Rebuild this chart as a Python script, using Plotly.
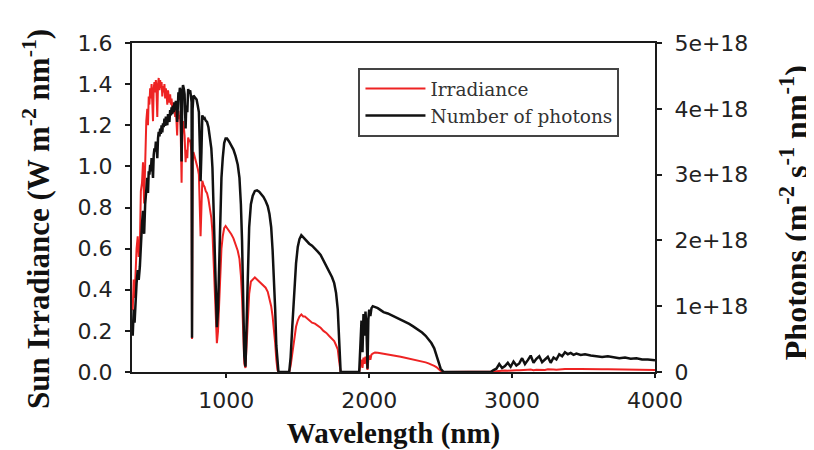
import plotly.graph_objects as go

# Wavelength (nm)
wavelength = [
    345, 352, 358, 365, 372, 380, 387, 395, 402, 410, 417, 425, 432, 440,
    447, 452, 457, 462, 467, 472, 477, 482, 487, 492, 497, 502, 507, 512,
    517, 522, 527, 532, 537, 542, 547, 552, 557, 562, 567, 572, 577, 582,
    587, 592, 597, 602, 607, 612, 617, 622, 627, 632, 637, 642, 647, 652,
    656, 660, 665, 670, 675, 680, 687, 692, 697, 703, 708, 715, 720, 727,
    733, 740, 747, 753, 757, 760, 764, 770, 778, 785, 792, 800, 808, 815,
    820, 826, 832, 840, 848, 856, 865, 875, 885, 895, 903, 912, 920, 928,
    934, 942, 950, 958, 966, 975, 985, 995, 1005, 1020, 1035, 1050, 1065,
    1080, 1092, 1102, 1110, 1118, 1126, 1134, 1142, 1150, 1160, 1172, 1185,
    1200, 1215, 1230, 1245, 1260, 1275, 1290, 1302, 1314, 1324, 1334, 1342,
    1350, 1358, 1365, 1440, 1450, 1462, 1475, 1488, 1500, 1512, 1525, 1538,
    1550, 1565, 1580, 1600, 1620, 1640, 1660, 1680, 1700, 1720, 1740, 1755,
    1768, 1780, 1790, 1800, 1930, 1938, 1946, 1953, 1960, 1967, 1974, 1981,
    1988, 1994, 2000, 2008, 2016, 2025, 2040, 2060, 2080, 2100, 2130, 2160,
    2190, 2220, 2250, 2280, 2310, 2340, 2370, 2395, 2415, 2435, 2455, 2470,
    2485, 2500, 2520, 2850, 2870, 2890, 2910, 2930, 2950, 2970, 2990, 3010,
    3030, 3050, 3070, 3090, 3110, 3130, 3150, 3170, 3190, 3210, 3230, 3250,
    3270, 3290, 3310, 3330, 3350, 3370, 3390, 3410, 3430, 3450, 3480, 3510,
    3550, 3590, 3630, 3670, 3710, 3750, 3790, 3830, 3870, 3910, 3950, 3990,
    4000,
]

# Sun irradiance (W m-2 nm-1)
irradiance = [
    0.30, 0.45, 0.36, 0.52, 0.60, 0.66, 0.56, 0.62, 0.88, 0.92, 1.02, 0.82, 1.10, 1.22,
    1.28, 1.20, 1.34, 1.30, 1.38, 1.33, 1.40, 1.32, 1.22, 1.38, 1.41, 1.36, 1.42, 1.35,
    1.24, 1.40, 1.43, 1.37, 1.42, 1.38, 1.41, 1.34, 1.39, 1.36, 1.40, 1.33, 1.38, 1.35,
    1.30, 1.37, 1.34, 1.31, 1.35, 1.30, 1.33, 1.28, 1.31, 1.26, 1.29, 1.24, 1.28, 1.22,
    1.15, 1.25, 1.27, 1.23, 1.25, 1.20, 0.92, 1.18, 1.22, 1.19, 1.15, 1.02, 1.08, 1.04,
    1.14, 1.12, 1.13, 1.09, 1.05, 0.16, 1.02, 1.07, 1.05, 1.03, 1.02, 0.99, 0.96, 0.82,
    0.66, 0.80, 0.93, 0.91, 0.90, 0.88, 0.87, 0.84, 0.80, 0.75, 0.68, 0.52, 0.38, 0.22,
    0.14, 0.20, 0.33, 0.50, 0.60, 0.66, 0.70, 0.71, 0.70, 0.69, 0.67, 0.65, 0.62,
    0.59, 0.55, 0.47, 0.36, 0.20, 0.04, 0.02, 0.14, 0.28, 0.38, 0.44, 0.45,
    0.46, 0.45, 0.44, 0.43, 0.42, 0.41, 0.39, 0.36, 0.32, 0.27, 0.21, 0.14,
    0.06, 0.01, 0.0, 0.0, 0.03, 0.09, 0.16, 0.22, 0.25, 0.27, 0.28, 0.27,
    0.27, 0.26, 0.25, 0.24, 0.235, 0.225, 0.215, 0.20, 0.19, 0.175, 0.16, 0.15,
    0.13, 0.11, 0.05, 0.0, 0.0, 0.03, 0.06, 0.02, 0.07, 0.04, 0.075, 0.05,
    0.01, 0.06, 0.08, 0.06, 0.085, 0.09, 0.095, 0.094, 0.092, 0.09, 0.086, 0.082,
    0.078, 0.074, 0.07, 0.066, 0.062, 0.057, 0.052, 0.047, 0.042, 0.037, 0.03, 0.024,
    0.015, 0.006, 0.0, 0.0, 0.002, 0.004, 0.006, 0.005, 0.007, 0.006, 0.008, 0.007,
    0.009, 0.008, 0.010, 0.009, 0.011, 0.012, 0.009, 0.011, 0.010, 0.012, 0.010, 0.013,
    0.011, 0.012, 0.011, 0.013, 0.013, 0.014, 0.015, 0.014, 0.015, 0.015, 0.015, 0.014,
    0.014, 0.014, 0.013, 0.013, 0.013, 0.012, 0.012, 0.012, 0.011, 0.011, 0.011, 0.010,
    0.010,
]

# Number of photons (x 1e18 m-2 s-1 nm-1)
photons_e18 = [
    0.55, 0.95, 0.75, 1.15, 1.35, 1.55, 1.40, 1.60, 2.05, 2.25, 2.45, 2.10, 2.55, 2.80,
    2.95, 2.72, 3.05, 3.00, 3.15, 3.05, 3.25, 3.12, 2.95, 3.30, 3.40, 3.35, 3.50, 3.42,
    3.25, 3.55, 3.65, 3.58, 3.70, 3.62, 3.75, 3.64, 3.78, 3.72, 3.85, 3.74, 3.88, 3.82,
    3.75, 3.92, 3.88, 3.80, 3.98, 3.90, 4.02, 3.92, 4.05, 3.95, 4.10, 3.98, 4.12, 4.02,
    3.80, 4.15, 4.25, 4.18, 4.32, 4.22, 3.20, 4.25, 4.36, 4.30, 4.22, 3.70, 4.05, 3.95,
    4.30, 4.25, 4.28, 4.18, 4.10, 0.52, 4.00, 4.20, 4.18, 4.15, 4.14, 4.05, 3.95, 3.40,
    2.90, 3.35, 3.90, 3.85, 3.86, 3.82, 3.80, 3.72, 3.58, 3.40, 3.10, 2.40, 1.80, 1.05,
    0.68, 0.95, 1.60, 2.45, 2.95, 3.25, 3.48, 3.55, 3.55, 3.50, 3.45, 3.38, 3.28,
    3.15, 2.95, 2.55, 2.00, 1.15, 0.25, 0.08, 0.80, 1.60, 2.20, 2.55, 2.68,
    2.75, 2.76, 2.74, 2.70, 2.66, 2.60, 2.52, 2.40, 2.20, 1.85, 1.45, 0.95,
    0.40, 0.08, 0.0, 0.0, 0.22, 0.70, 1.25, 1.65, 1.90, 2.02, 2.08, 2.05,
    2.02, 1.98, 1.95, 1.92, 1.88, 1.83, 1.78, 1.70, 1.62, 1.53, 1.44, 1.35,
    1.20, 0.95, 0.40, 0.0, 0.0, 0.40, 0.78, 0.30, 0.88, 0.55, 0.92, 0.65,
    0.05, 0.80, 0.95, 0.85, 0.97, 1.00, 0.99, 0.97, 0.94, 0.91, 0.89, 0.86,
    0.83, 0.80, 0.77, 0.73, 0.69, 0.65, 0.60, 0.55, 0.50, 0.44, 0.36, 0.26,
    0.14, 0.05, 0.0, 0.0, 0.03, 0.05, 0.12, 0.06, 0.09, 0.14, 0.08, 0.16,
    0.10, 0.13, 0.21, 0.12, 0.18, 0.25, 0.14, 0.20, 0.24, 0.15, 0.19, 0.23,
    0.14, 0.22, 0.19, 0.27, 0.24, 0.30, 0.27, 0.29, 0.26, 0.28, 0.26, 0.27,
    0.25, 0.24, 0.23, 0.24, 0.22, 0.21, 0.22, 0.20, 0.21, 0.19, 0.19, 0.18,
    0.18,
]

x_ticks = [1000, 2000, 3000, 4000]
y_left_ticks = [0.0, 0.2, 0.4, 0.6, 0.8, 1.0, 1.2, 1.4, 1.6]
y_right_ticks = [0, 1, 2, 3, 4, 5]
y_right_labels = ["0", "1e+18", "2e+18", "3e+18", "4e+18", "5e+18"]

x_title = "<b>Wavelength (nm)</b>"
y_left_title = "<b>Sun Irradiance (W m<sup>-2</sup> nm<sup>-1</sup>)</b>"
y_right_title = "<b>Photons (m<sup>-2</sup> s<sup>-1</sup> nm<sup>-1</sup>)</b>"

AX = "#1a1a1a"
TICKFONT = dict(family="DejaVu Sans", size=22, color="#222")
SERIF = "Liberation Serif, Times New Roman"

fig = go.Figure()
fig.add_trace(go.Scatter(
    x=wavelength, y=irradiance, name="Irradiance", mode="lines",
    line=dict(color="rgb(238,35,35)", width=2), yaxis="y",
))
fig.add_trace(go.Scatter(
    x=wavelength, y=photons_e18, name="Number of photons", mode="lines",
    line=dict(color="#111111", width=2.5), yaxis="y2",
))

fig.update_layout(
    width=806, height=442,
    margin=dict(l=124, r=159, t=35, b=78),
    paper_bgcolor="white", plot_bgcolor="white",
    showlegend=True,
    legend=dict(
        x=0.433, y=0.924, xanchor="left", yanchor="top",
        bordercolor="#444", borderwidth=2, bgcolor="white",
        font=dict(family="DejaVu Serif", size=18.5, color="#333"),
        tracegroupgap=0, itemwidth=60,
    ),
    xaxis=dict(
        range=[340, 4000], tickvals=x_ticks, ticks="outside", ticklen=4,
        tickcolor=AX, tickwidth=2, ticklabelstandoff=4, automargin=False,
        showline=True, linecolor=AX, linewidth=2, mirror=True,
        showgrid=False, zeroline=False, tickfont=TICKFONT,
        title=dict(text=x_title,
                   font=dict(family=SERIF, size=29, color="#111"), standoff=20),
    ),
    yaxis=dict(
        range=[0, 1.6], tickvals=y_left_ticks, tickformat=".1f",
        ticks="outside", ticklen=5, tickcolor=AX, tickwidth=2,
        showline=True, linecolor=AX, linewidth=2, automargin=False,
        showgrid=False, zeroline=False, tickfont=TICKFONT,
        ticklabelstandoff=8,
    ),
    yaxis2=dict(
        range=[0, 5], tickvals=y_right_ticks, ticktext=y_right_labels,
        overlaying="y", side="right", automargin=False,
        ticks="outside", ticklen=5, tickcolor=AX, tickwidth=2,
        showline=True, linecolor=AX, linewidth=2,
        showgrid=False, zeroline=False, tickfont=TICKFONT,
        ticklabelstandoff=8,
    ),
    annotations=[
        dict(text=y_left_title, textangle=-90, xref="paper", yref="paper",
             x=-0.183, y=0.466, xanchor="center", yanchor="middle",
             showarrow=False, font=dict(family=SERIF, size=31, color="#111")),
        dict(text=y_right_title, textangle=-90, xref="paper", yref="paper",
             x=1.266, y=0.483, xanchor="center", yanchor="middle",
             showarrow=False, font=dict(family=SERIF, size=32, color="#111")),
    ],
)

fig.write_html("out.html")
